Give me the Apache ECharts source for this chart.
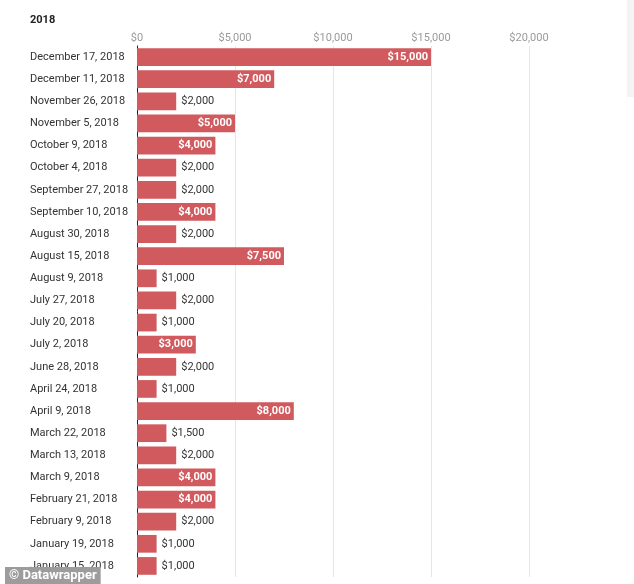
<!DOCTYPE html>
<html>
<head>
<meta charset="utf-8">
<script src="https://cdn.jsdelivr.net/npm/echarts@6/dist/echarts.min.js"></script>
<style>html,body{margin:0;padding:0;background:#fff}#c{width:634px;height:584px}</style>
</head>
<body>
<div id="c"></div>
<script>
const categories = ["December 17, 2018","December 11, 2018","November 26, 2018","November 5, 2018","October 9, 2018","October 4, 2018","September 27, 2018","September 10, 2018","August 30, 2018","August 15, 2018","August 9, 2018","July 27, 2018","July 20, 2018","July 2, 2018","June 28, 2018","April 24, 2018","April 9, 2018","March 22, 2018","March 13, 2018","March 9, 2018","February 21, 2018","February 9, 2018","January 19, 2018","January 15, 2018"];
const amounts = [15000,7000,2000,5000,4000,2000,2000,4000,2000,7500,1000,2000,1000,3000,2000,1000,8000,1500,2000,4000,4000,2000,1000,1000];
const tickValues = [0,5000,10000,15000,20000];

const fmt = v => '$' + v.toLocaleString('en-US');
const chart = echarts.init(document.getElementById('c'));
chart.setOption({
  backgroundColor: '#fff',
  animation: false,
  title: {text: '2018', left: 25, top: 10, textStyle: {fontFamily: 'Roboto', fontSize: 11, fontWeight: 'bold', color: '#222'}},
  grid: {left: 137, right: 105, top: 46, bottom: 7, containLabel: false},
  xAxis: {
    type: 'value', position: 'top', min: tickValues[0], max: tickValues[tickValues.length - 1], interval: 5000,
    axisLine: {show: false}, axisTick: {show: false},
    axisLabel: {color: '#9a9a9a', fontFamily: 'Roboto', fontSize: 11, margin: 2, formatter: v => fmt(v)},
    splitLine: {lineStyle: {color: '#e6e6e6', width: 1}}
  },
  yAxis: {
    type: 'category', data: categories, inverse: true,
    axisLine: {show: true, lineStyle: {color: '#222', width: 1}}, axisTick: {show: false},
    axisLabel: {align: 'left', margin: 107, color: '#333', fontFamily: 'Roboto', fontSize: 11}
  },
  series: [{
    type: 'bar', barCategoryGap: '20%',
    itemStyle: {color: '#d05a5e'},
    data: amounts.map(v => ({
      value: v,
      label: v >= 3000
        ? {show: true, position: 'insideRight', distance: 3, color: '#fff', fontWeight: 'bold', fontFamily: 'Roboto', fontSize: 11, formatter: p => fmt(p.value)}
        : {show: true, position: 'right', distance: 5, color: '#333', fontFamily: 'Roboto', fontSize: 11, formatter: p => fmt(p.value)}
    }))
  }],
  graphic: [
    {type: 'rect', left: 627, top: 0, shape: {width: 7, height: 97}, style: {fill: '#f4f4f4'}},
    {type: 'text', left: 5, top: 567, z: 101,
     style: {text: '© Datawrapper', fill: '#fff', font: 'bold 13px Roboto', backgroundColor: '#9c9c9c', padding: [2, 4, 2, 4]}}
  ]
});
</script>
</body>
</html>
